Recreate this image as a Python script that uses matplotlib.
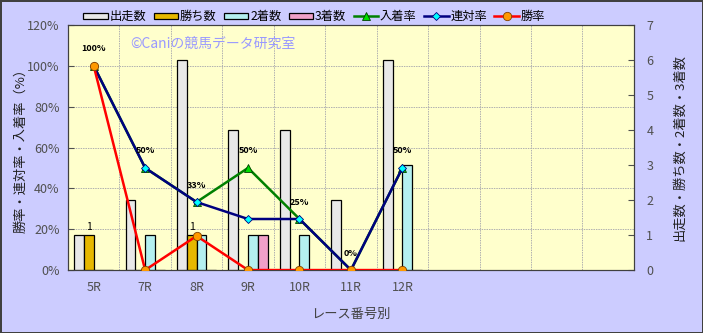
import numpy as np
import matplotlib
matplotlib.use("Agg")
from matplotlib import pyplot as plt

plt.rcParams['font.family'] = ['Noto Sans CJK JP', 'DejaVu Sans']

# data
races = ['5R', '7R', '8R', '9R', '10R', '11R', '12R']
n_slots = 11  # chart keeps empty category slots on the right
starts = [1, 2, 6, 4, 4, 2, 6]
wins = [1, 0, 1, 0, 0, 0, 0]
seconds = [0, 1, 1, 1, 1, 0, 3]
thirds = [0, 0, 0, 1, 0, 0, 0]
place_rate = [100, 50, 33.3, 50, 25, 0, 50]
rentai_rate = [100, 50, 33.3, 25, 25, 0, 50]
win_rate = [100, 0, 16.7, 0, 0, 0, 0]

tick_col = '#505050'

fig = plt.figure(figsize=(7.03, 3.33), dpi=100)
fig.patch.set_facecolor('#ccccff')
fig.patch.set_edgecolor('#404040')
fig.patch.set_linewidth(2)

ax = fig.add_axes([0.0967, 0.189, 0.805, 0.736])
ax.set_facecolor('#ffffcc')
ax2 = ax.twinx()

x = np.arange(len(races))
w = 0.19
bar_series = [
    (starts, '#e8e8e8', '出走数'),
    (wins, '#e6b800', '勝ち数'),
    (seconds, '#b4f0f0', '2着数'),
    (thirds, '#f0a0c8', '3着数'),
]
bar_handles = []
for k, (vals, col, lab) in enumerate(bar_series):
    b = ax.bar(x + (k - 1.5) * w, vals, w, color=col, edgecolor='black',
               linewidth=0.9, label=lab, zorder=3)
    bar_handles.append(b)

ax.set_xlim(-0.5, n_slots - 0.5)
ax.set_ylim(0, 7)
ax.yaxis.tick_right()
ax.yaxis.set_label_position('right')
ax.set_yticks(range(8))
ax.set_xticks(x)
ax.set_xticklabels(races)
ax.set_xticks(np.arange(n_slots - 1) + 0.5, minor=True)
ax.set_yticks(np.arange(1, 6) * 7 / 6, minor=True)
ax.grid(True, which='minor', color='#b0b0b0', linestyle=(0, (1.5, 1)), linewidth=0.7, zorder=0)
ax.tick_params(axis='x', which='both', length=0, colors=tick_col, labelsize=9, pad=8)
ax.tick_params(axis='y', which='minor', length=0)
ax.tick_params(axis='y', which='major', colors=tick_col, labelsize=9, length=4, direction='in', pad=9)
ax.set_ylabel('出走数・勝ち数・2着数・3着数', fontsize=9.5, color='#202020', labelpad=14, rotation=90)
ax.set_xlabel('レース番号別', fontsize=9.5, color='#404040', labelpad=10)
for s in ax.spines.values():
    s.set_color('#404040')

# "1" labels over win bars
for i, v in enumerate(wins):
    if v > 0:
        ax.annotate(str(v), (x[i] - 0.5 * w, v), xytext=(0, 2), textcoords='offset points',
                    ha='center', va='bottom', fontsize=7.5, color='black', zorder=5)

ax2.yaxis.tick_left()
ax2.yaxis.set_label_position('left')
ax2.set_ylim(0, 120)
ax2.set_yticks(range(0, 121, 20))
ax2.set_yticklabels(['%d%%' % v for v in range(0, 121, 20)])
ax2.tick_params(axis='y', colors=tick_col, labelsize=9, length=4, direction='in', pad=6)
ax2.set_ylabel('勝率・連対率・入着率（%）', fontsize=9.5, color='#202020', labelpad=0)
for s in ax2.spines.values():
    s.set_color('#404040')

l1, = ax2.plot(x, place_rate, color='#008000', lw=1.8, marker='^', ms=6,
               mfc='#00dd00', mec='#004000', mew=0.6, label='入着率', zorder=4)
l2, = ax2.plot(x, rentai_rate, color='#000080', lw=1.8, marker='D', ms=4.5,
               mfc='#00ffff', mec='#000080', mew=0.6, label='連対率', zorder=5)
l3, = ax2.plot(x, win_rate, color='#ff0000', lw=1.8, marker='o', ms=6,
               mfc='#ff9900', mec='#804000', mew=0.6, label='勝率', zorder=6)

for i, v in enumerate(place_rate):
    ax2.annotate('%d%%' % round(v), (x[i], v), xytext=(0, 9), textcoords='offset points',
                 ha='center', va='bottom', fontsize=6.5, fontweight='bold', color='black', zorder=7)

fig.text(0.185, 0.855, '©Caniの競馬データ研究室', fontsize=10, color='#9999ff')

handles = bar_handles + [l1, l2, l3]
labels = [h.get_label() for h in handles]
fig.legend(handles, labels, loc='center', bbox_to_anchor=(0.447, 0.95), ncol=7, frameon=False,
           fontsize=8.8, handlelength=2.0, handleheight=0.45, handletextpad=0.15, columnspacing=0.6)

plt.savefig('out.png', dpi=100)
